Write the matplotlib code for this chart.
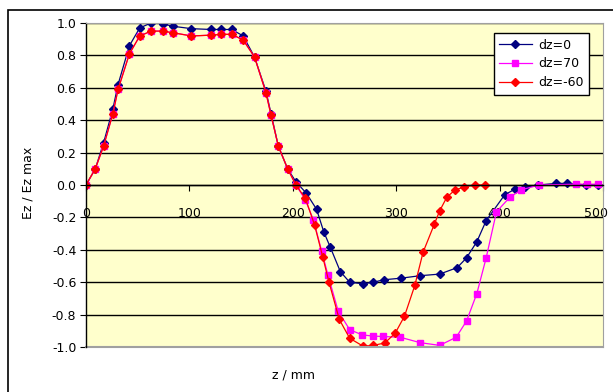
import numpy as np
import matplotlib
matplotlib.use('Agg')
import matplotlib.pyplot as plt
import matplotlib.transforms as mtransforms
from matplotlib.patches import Rectangle

# dz = 0
z_0 = [0, 9, 17, 26, 31, 42, 52, 63, 74, 84, 102, 121, 131, 141, 152, 163, 174, 179, 186, 195,
       203, 213, 223, 230, 236, 246, 255, 268, 278, 288, 305, 323, 342, 359, 368, 378, 387,
       405, 415, 425, 437, 455, 465, 484, 495]
ez_0 = [0.0, 0.10, 0.26, 0.47, 0.62, 0.86, 0.97, 1.0, 0.995, 0.98, 0.965, 0.96, 0.96, 0.96, 0.92,
        0.79, 0.58, 0.44, 0.24, 0.10, 0.02, -0.05, -0.15, -0.29, -0.38, -0.535, -0.60, -0.61,
        -0.60, -0.585, -0.575, -0.56, -0.55, -0.51, -0.45, -0.35, -0.22,
        -0.06, -0.025, -0.015, 0.0, 0.01, 0.01, 0.0, 0.0]

# dz = 70
z_70 = [0, 9, 17, 26, 31, 42, 52, 63, 74, 84, 102, 121, 131, 141, 152, 163, 174, 179, 186, 195,
        203, 212, 220, 228, 234, 244, 255, 267, 278, 287, 304, 323, 342, 358, 368, 378, 387,
        397, 410, 421, 438, 474, 485, 495]
ez_70 = [0.0, 0.10, 0.24, 0.44, 0.59, 0.81, 0.92, 0.95, 0.95, 0.94, 0.92, 0.925, 0.93, 0.93, 0.895,
         0.79, 0.57, 0.43, 0.24, 0.10, 0.0, -0.09, -0.216, -0.41, -0.556, -0.78, -0.893, -0.925,
         -0.933, -0.935, -0.94, -0.973, -0.99, -0.94, -0.84, -0.67, -0.45,
         -0.165, -0.075, -0.03, 0.0, 0.005, 0.005, 0.005]

# dz = -60
z_m60 = [0, 9, 17, 26, 31, 42, 52, 63, 74, 84, 102, 121, 131, 141, 152, 163, 174, 179, 186, 195,
         203, 212, 221, 229, 235, 245, 255, 268, 278, 289, 299, 308, 318, 326, 337, 342, 349,
         357, 366, 376, 386]
ez_m60 = [0.0, 0.10, 0.24, 0.44, 0.59, 0.81, 0.92, 0.95, 0.95, 0.94, 0.92, 0.925, 0.93, 0.93, 0.895,
          0.79, 0.57, 0.43, 0.24, 0.10, 0.0, -0.08, -0.245, -0.445, -0.60, -0.83, -0.946, -0.995,
          -0.99, -0.975, -0.915, -0.81, -0.62, -0.415, -0.24, -0.16, -0.075,
          -0.03, -0.012, 0.0, 0.0]

x_ticks = [0, 100, 200, 300, 400, 500]
y_ticks = [-1.0, -0.8, -0.6, -0.4, -0.2, 0.0, 0.2, 0.4, 0.6, 0.8, 1.0]

plt.rcParams['font.family'] = 'DejaVu Sans'
plt.rcParams['font.size'] = 9

fig = plt.figure(figsize=(6.13, 3.92), dpi=100)
fig.patch.set_facecolor('white')

# outer chart border (cut off at right and bottom)
fig.patches.append(Rectangle((8 / 613, -0.1), 1.2, 1 - 10 / 392 + 0.1, transform=fig.transFigure,
                             fill=False, edgecolor='black', linewidth=1.2))

ax = fig.add_axes([86 / 613, 1 - 347 / 392, 517 / 613, 324 / 392])
ax.set_facecolor('#FFFFCC')

ax.plot(z_0, ez_0, color='#000080', marker='D', markersize=4, linewidth=0.9, label='dz=0')
ax.plot(z_70, ez_70, color='#FF00FF', marker='s', markersize=5, linewidth=0.9, label='dz=70')
ax.plot(z_m60, ez_m60, color='#FF0000', marker='D', markersize=4.5, linewidth=0.9, label='dz=-60')

ax.set_xlim(0, 500)
ax.set_ylim(-1.0, 1.0)
ax.set_xticks(x_ticks)
ax.set_yticks(y_ticks)
ax.set_yticklabels(['%.1f' % v for v in y_ticks])
ax.set_xticklabels([str(v) for v in x_ticks])

ax.grid(True, axis='y', color='black', linewidth=1.0)
ax.set_axisbelow(True)

ax.spines['bottom'].set_position(('data', 0))
ax.spines['bottom'].set_color('black')
ax.spines['left'].set_color('black')
ax.spines['top'].set_color('#a0a0a0')
ax.spines['right'].set_color('#a0a0a0')
ax.spines['left'].set_linewidth(1.0)
ax.spines['bottom'].set_linewidth(1.0)

# border of the plot area below the zero line
ax.axhline(-1.0, color='#a0a0a0', linewidth=1.5, clip_on=False)

ax.tick_params(axis='x', direction='out', length=4, pad=12, colors='black')
ax.tick_params(axis='y', direction='out', length=4, pad=3, colors='black')

# keep the last x label inside the picture
last = ax.get_xticklabels()[-1]
last.set_transform(last.get_transform() + mtransforms.ScaledTranslation(-7 / 100, 0, fig.dpi_scale_trans))

fig.text(28 / 613, 1 - 183 / 392, 'Ez / Ez max', rotation=90, ha='center', va='center')
fig.text(293 / 613, 1 - 375 / 392, 'z / mm', ha='center', va='center')

leg = ax.legend(loc='upper right', bbox_to_anchor=(589 / 613, 1 - 33 / 392),
                bbox_transform=fig.transFigure, borderaxespad=0, frameon=True, fancybox=False,
                handlelength=2.6, handletextpad=0.5, labelspacing=0.45, borderpad=0.45)
leg.get_frame().set_edgecolor('black')
leg.get_frame().set_linewidth(1.0)
leg.get_frame().set_facecolor('white')
leg.get_frame().set_alpha(1.0)

fig.savefig('out.png', dpi=100)
